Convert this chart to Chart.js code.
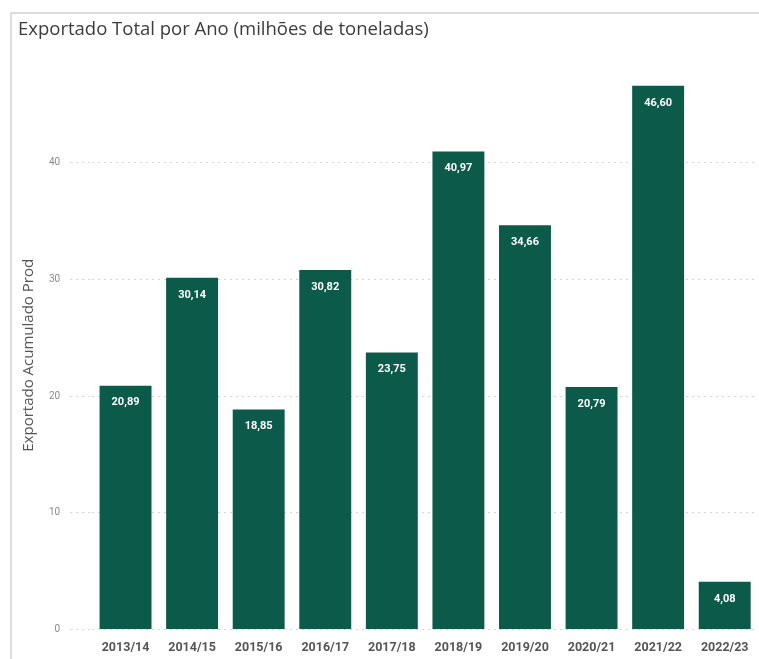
<!DOCTYPE html>
<html>
<head>
<meta charset="utf-8">
<script src="https://cdn.jsdelivr.net/npm/chart.js@4"></script>
<style>
    html, body { margin: 0; padding: 0; background: #fff; overflow: hidden; }
    #wrap { position: relative; width: 759px; height: 690px; }
    #frame { position: absolute; left: 10px; top: 12px; right: -5px; bottom: -5px; border-top: 2px solid #dcdcdc; border-left: 2px solid #dcdcdc; }
    canvas { position: absolute; left: 0; top: 0; }
</style>
</head>
<body>
<div id="wrap">
    <canvas id="exportChart" width="759" height="690"></canvas>
    <div id="frame"></div>
</div>
<script>
const safras = ['2013/14', '2014/15', '2015/16', '2016/17', '2017/18', '2018/19', '2019/20', '2020/21', '2021/22', '2022/23'];
const exportado = [20.89, 30.14, 18.85, 30.82, 23.75, 40.97, 34.66, 20.79, 46.60, 4.08];
const yTicks = [0, 10, 20, 30, 40];

// Labels inside the top of each bar, pt-BR formatting
const barLabels = {
    id: 'barLabels',
    afterDatasetsDraw(chart) {
        const ctx = chart.ctx;
        const meta = chart.getDatasetMeta(0);
        ctx.save();
        ctx.fillStyle = '#ffffff';
        ctx.font = 'bold 11px Roboto';
        ctx.textAlign = 'center';
        ctx.textBaseline = 'middle';
        meta.data.forEach((bar, i) => {
            const txt = exportado[i].toFixed(2).replace('.', ',');
            ctx.fillText(txt, bar.x, bar.y + 17);
        });
        ctx.restore();
    }
};

new Chart(document.getElementById('exportChart'), {
    type: 'bar',
    data: {
        labels: safras,
        datasets: [{
            label: 'Exportado Acumulado Prod',
            data: exportado,
            backgroundColor: '#0c5a49',
            barPercentage: 0.78,
            categoryPercentage: 1
        }]
    },
    options: {
        responsive: false,
        animation: false,
        layout: { padding: { left: 18, right: 1, top: 0, bottom: 16 } },
        plugins: {
            legend: { display: false },
            tooltip: { enabled: false },
            title: {
                display: true,
                text: 'Exportado Total por Ano (milhões de toneladas)',
                align: 'start',
                color: '#3c3c3c',
                font: { family: 'Open Sans', size: 18.5, weight: 'normal' },
                padding: { top: 19, bottom: 40 }
            }
        },
        scales: {
            x: {
                grid: { display: false },
                border: { display: false },
                ticks: { color: '#555', padding: 3, font: { family: 'Roboto', size: 12.5, weight: 'bold' } },
                title: { display: true, text: 'safra', color: '#555', font: { family: 'Open Sans', size: 13 }, padding: { top: 0, bottom: 0 } }
            },
            y: {
                min: 0,
                max: 47,
                afterBuildTicks: axis => { axis.ticks = yTicks.map(v => ({ value: v })); },
                grid: { color: '#d4d4d4', tickLength: 22, lineWidth: 1, tickBorderDash: [2, 4] },
                border: { display: false, dash: [2, 4] },
                ticks: { color: '#8a8a8a', padding: 10, font: { family: 'Roboto', size: 10 } },
                title: { display: true, text: 'Exportado Acumulado Prod', color: '#555', font: { family: 'Open Sans', size: 15 }, padding: { top: 2, bottom: 1 } }
            }
        }
    },
    plugins: [barLabels]
});
</script>
</body>
</html>
